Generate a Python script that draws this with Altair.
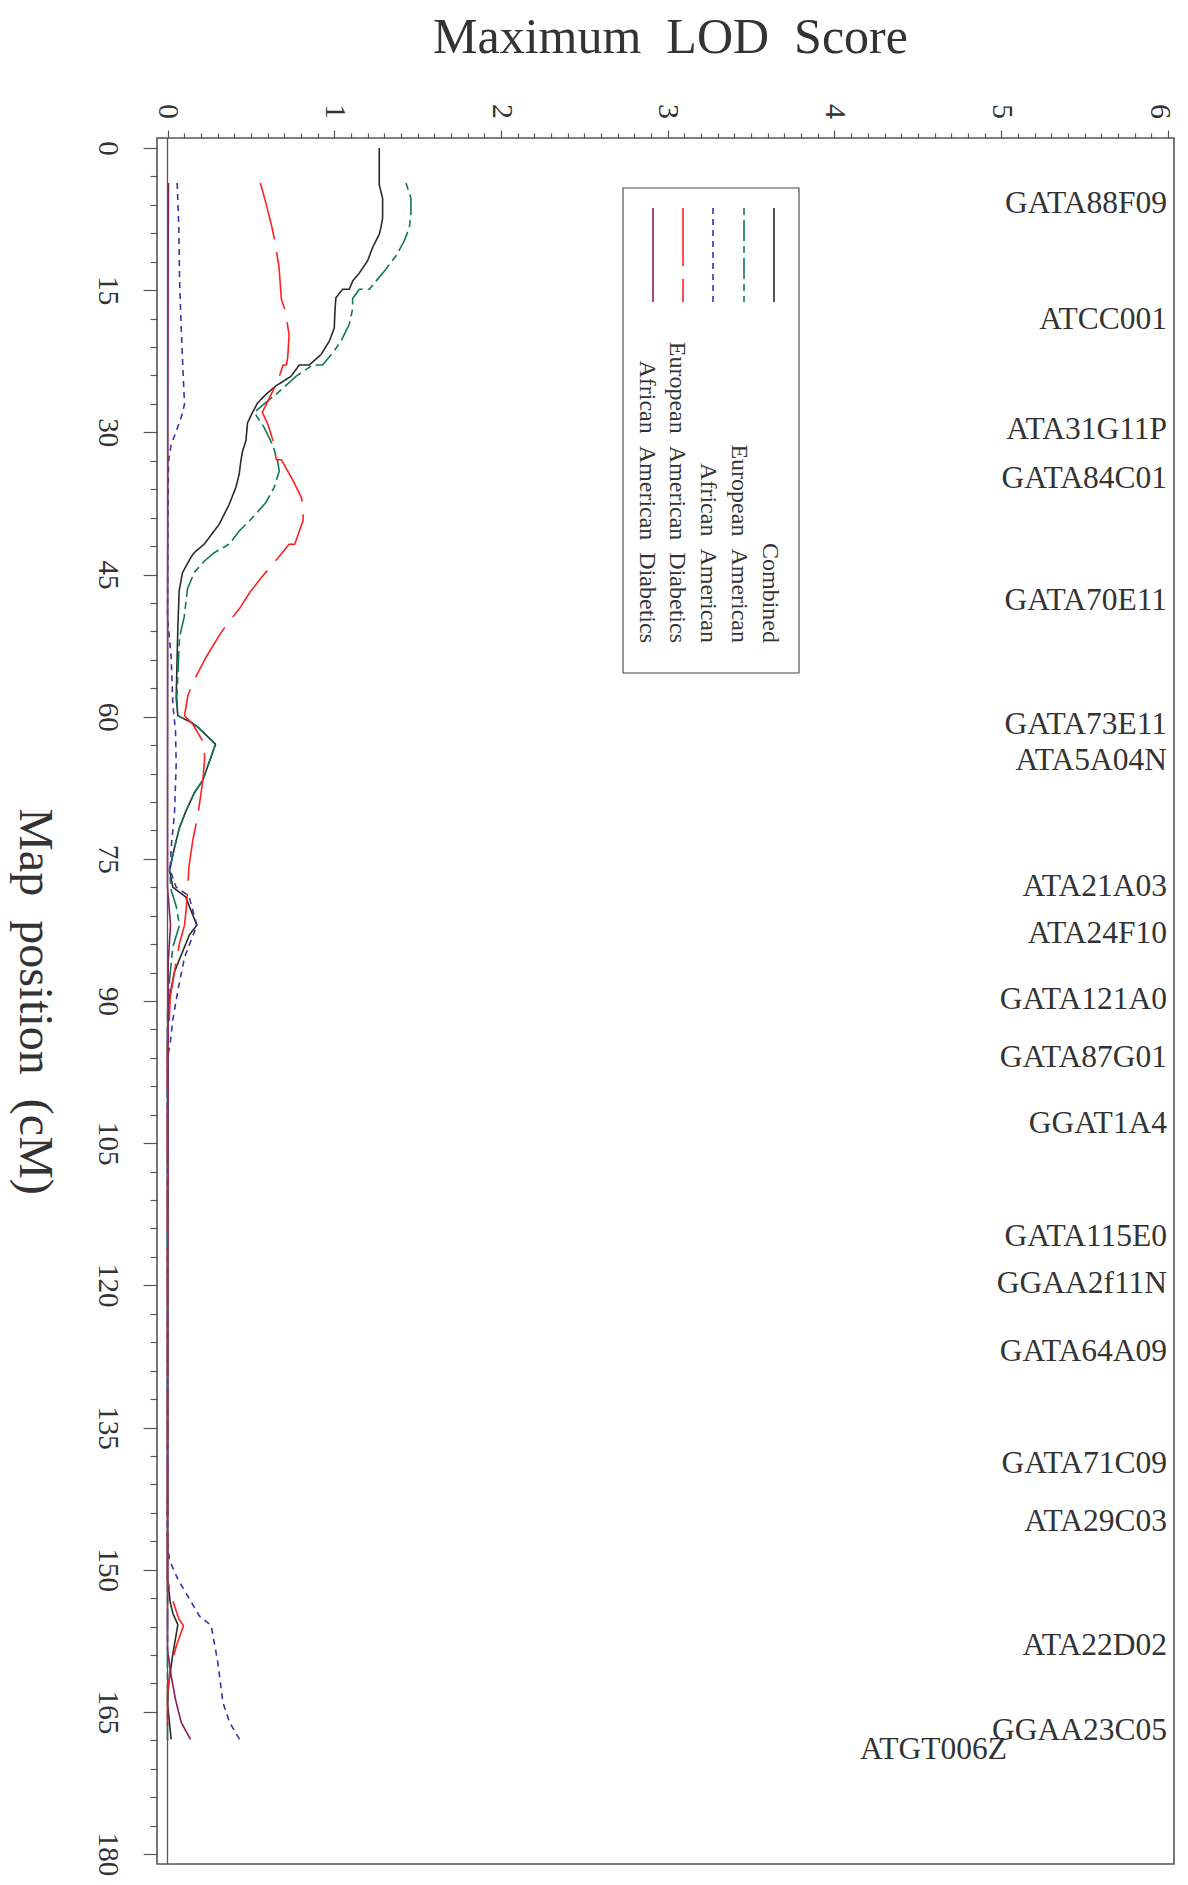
import altair as alt
import pandas as pd

FONT = "Liberation Serif"

SERIES = ["Combined", "European American", "African American",
          "European American Diabetics", "African American Diabetics"]
COLORS = ["#2b2b2b", "#0f7a55", "#3535a8", "#ff2020", "#8b1c5c"]
DASHES = [[1, 0], [7, 5, 21, 5], [6, 5], [58, 13], [1, 0]]

COMBINED_POS = [0, 1.8, 3.9, 5.3, 7.4, 8.4, 9.1, 10.5, 11.9, 13.2, 14.05, 14.9, 14.9, 15.8, 16.9,
                19.0, 20.4, 21.8, 22.9, 22.9, 24.1, 25.1, 26.0, 26.9, 27.9, 29.0, 30.9, 32.0, 33.0,
                34.4, 35.8, 37.6, 39.7, 41.8, 42.7, 43.2, 44.8, 46.7, 50.6, 58.0, 59.9, 60.6, 61.1,
                62.9, 66.7, 68.0, 69.9, 71.7, 73.8, 76.2, 78.0, 79.0, 82.0, 83.0, 86.9, 89.6, 93.0,
                151.0, 153.4, 154.6, 155.8, 158.9, 161.9, 164.1, 167.9]
COMBINED_LOD = [1.27, 1.27, 1.27, 1.29, 1.29, 1.28, 1.27, 1.23, 1.20, 1.15, 1.11, 1.09, 1.05, 1.01, 1.005,
                1.0, 0.97, 0.92, 0.85, 0.79, 0.74, 0.65, 0.59, 0.54, 0.51, 0.48, 0.47, 0.45, 0.44,
                0.43, 0.41, 0.37, 0.31, 0.22, 0.16, 0.14, 0.09, 0.07, 0.062, 0.052, 0.062, 0.142, 0.182,
                0.288, 0.212, 0.162, 0.112, 0.072, 0.042, 0.012, 0.032, 0.108, 0.176, 0.132, 0.042, 0.012, 0.0,
                0.0, 0.016, 0.032, 0.062, 0.032, 0.008, 0.0, 0.022]

EA_POS = [3.7, 5.3, 7.0, 8.4, 9.8, 11.4, 13.0, 14.9, 14.9, 15.9, 17.0, 18.6, 20.4, 21.4, 22.9, 22.9,
          24.1, 26.0, 27.0, 27.9, 29.5, 31.3, 33.0, 34.1, 35.8, 37.4, 39.0, 40.4, 41.8, 42.7, 43.6,
          44.8, 46.5, 49.5, 51.6, 58.0, 59.9, 60.6, 61.1, 62.9, 66.7, 68.0, 69.9, 71.7, 73.8, 76.2,
          78.3, 80.0, 82.0, 84.3, 87.8, 91.3, 168.0]
EA_LOD = [1.43, 1.46, 1.46, 1.45, 1.42, 1.37, 1.30, 1.21, 1.15, 1.11, 1.11, 1.09, 1.04, 1.00, 0.93, 0.87,
          0.77, 0.65, 0.58, 0.52, 0.58, 0.63, 0.66, 0.67, 0.64, 0.59, 0.51, 0.43, 0.37, 0.28, 0.22,
          0.16, 0.12, 0.10, 0.072, 0.056, 0.062, 0.142, 0.182, 0.288, 0.212, 0.162, 0.112, 0.072, 0.042, 0.012,
          0.022, 0.052, 0.072, 0.032, 0.012, 0.0, 0.0]

AA_POS = [3.7, 8.4, 13.7, 19.0, 23.2, 27.0, 28.1, 29.9, 31.3, 33.0, 40.0, 49.5, 53.7, 58.7, 61.5,
          65.0, 70.2, 73.8, 76.2, 78.0, 78.9, 82.0, 85.4, 88.9, 92.0, 94.5, 96.0, 147.2, 149.0,
          151.0, 153.1, 154.9, 155.9, 159.8, 164.0, 166.1, 167.9]
AA_LOD = [0.058, 0.068, 0.072, 0.082, 0.092, 0.102, 0.088, 0.052, 0.022, 0.006, 0.002, 0.0, 0.022, 0.032, 0.048,
          0.052, 0.042, 0.022, 0.016, 0.052, 0.128, 0.176, 0.102, 0.062, 0.032, 0.016, 0.0, 0.0, 0.012,
          0.062, 0.132, 0.192, 0.262, 0.302, 0.332, 0.372, 0.432]

EAD_POS = [3.7, 6.0, 8.4, 9.8, 12.6, 16.0, 17.2, 19.7, 22.1, 22.9, 22.9, 24.2, 25.6, 27.0, 27.9, 29.2,
           30.9, 32.9, 32.9, 35.1, 36.9, 37.8, 39.3, 41.8, 41.8, 43.9, 45.1, 46.9, 48.6, 49.9, 51.1,
           53.7, 56.4, 57.8, 59.9, 60.8, 62.9, 64.6, 66.7, 70.4, 73.0, 75.9, 78.0, 80.3, 82.0, 83.9,
           86.9, 89.6, 93.2, 94.5, 151.0, 152.8, 153.8, 155.2, 155.9, 158.1, 160.5, 163.3, 167.9]
EAD_LOD = [0.557, 0.593, 0.627, 0.643, 0.669, 0.683, 0.707, 0.729, 0.721, 0.713, 0.693, 0.669, 0.633, 0.593, 0.569, 0.603,
           0.633, 0.653, 0.683, 0.753, 0.803, 0.813, 0.813, 0.763, 0.729, 0.633, 0.573, 0.493, 0.432, 0.372, 0.322,
           0.232, 0.152, 0.122, 0.102, 0.152, 0.222, 0.222, 0.212, 0.182, 0.152, 0.128, 0.122, 0.112, 0.102, 0.072,
           0.042, 0.016, 0.008, 0.0, 0.0, 0.022, 0.042, 0.068, 0.096, 0.052, 0.016, 0.0, 0.0]

AAD_POS = [3.7, 10.0, 30.0, 78.0, 82.0, 86.0, 158.4, 161.2, 163.7, 166.1, 167.9]
AAD_LOD = [0.006, 0.004, 0.002, 0.0, 0.018, 0.004, 0.0, 0.022, 0.048, 0.082, 0.138]

MARKERS = ["GATA88F09", "ATCC001", "ATA31G11P", "GATA84C01", "GATA70E11", "GATA73E11", "ATA5A04N",
           "ATA21A03", "ATA24F10", "GATA121A0", "GATA87G01", "GGAT1A4", "GATA115E0", "GGAA2f11N",
           "GATA64A09", "GATA71C09", "ATA29C03", "ATA22D02", "GGAA23C05"]
MARKER_POS = [5.9, 18.2, 29.8, 34.9, 47.8, 60.9, 64.7, 78.0, 82.9, 89.9, 96.0, 103.0, 114.9, 119.9,
              127.0, 138.9, 145.0, 158.0, 167.0]
SHIFTED_MARKER = ["ATGT006Z"]
SHIFTED_MARKER_POS = [169.0]

ZERO_LINE = [0]
X_TICKS = [round(i * 0.1, 1) for i in range(61)]
Y_TICKS = list(range(0, 181, 3))

W, H = 1017, 1726

rows = []
for name, pos, lod in [(SERIES[0], COMBINED_POS, COMBINED_LOD), (SERIES[1], EA_POS, EA_LOD),
                       (SERIES[2], AA_POS, AA_LOD), (SERIES[3], EAD_POS, EAD_LOD),
                       (SERIES[4], AAD_POS, AAD_LOD)]:
    for i, (p, l) in enumerate(zip(pos, lod)):
        rows.append({"series": name, "idx": i, "pos": p, "lod": l})
df = pd.DataFrame(rows)

xs = alt.Scale(domain=[-0.063, 6.036], nice=False, zero=False)
ys = alt.Scale(domain=[-1.054, 181.05], nice=False, zero=False, reverse=True)

x_axis = alt.Axis(
    orient="top", values=X_TICKS, grid=False, domain=False,
    tickSize={"condition": {"test": "abs(datum.value - round(datum.value)) < 0.001", "value": 8}, "value": 5},
    tickColor="#555555", tickWidth=1.2,
    labelExpr="abs(datum.value - round(datum.value)) < 0.001 ? format(datum.value, 'd') : ''",
    labelOffset={"condition": {"test": "datum.value > 5.95", "value": -8}, "value": 0},
    labelAngle=90, labelAlign="center", labelBaseline="middle", labelPadding=19,
    labelOverlap=False, labelFlush=False, labelFontSize=30, labelColor="#333333", labelFont=FONT,
    title="Maximum\u2002LOD\u2002Score", titleFontSize=50, titleFont=FONT, titleColor="#333333",
    titleFontWeight="normal", titleAngle=0, titleAlign="center", titleBaseline="alphabetic",
    titleX=513, titleY=-86,
)
y_axis = alt.Axis(
    orient="left", values=Y_TICKS, grid=False, domain=False,
    tickSize={"condition": {"test": "datum.value % 15 === 0", "value": 14}, "value": 7},
    tickColor="#555555", tickWidth=1.2,
    labelExpr="datum.value % 15 === 0 ? datum.label : ''",
    labelAngle=90, labelAlign="center", labelBaseline="middle", labelPadding=36,
    labelOverlap=False, labelFlush=False, labelFontSize=29, labelColor="#333333", labelFont=FONT,
    title="Map\u2002position\u2002(cM)", titleFontSize=48, titleFont=FONT, titleColor="#333333",
    titleFontWeight="normal", titleAngle=90, titleAlign="center", titleBaseline="middle",
    titleX=-124, titleY=H / 2,
)

X_ENC = alt.X("lod:Q", scale=xs, axis=x_axis)
Y_ENC = alt.Y("pos:Q", scale=ys, axis=y_axis)

lines = alt.Chart(df).mark_line(strokeWidth=1.6, clip=True).encode(
    x=X_ENC,
    y=Y_ENC,
    color=alt.Color("series:N", scale=alt.Scale(domain=SERIES, range=COLORS), legend=None),
    strokeDash=alt.StrokeDash("series:N", scale=alt.Scale(domain=SERIES, range=DASHES), legend=None),
    order=alt.Order("idx:Q"),
    detail="series:N",
)

zero = alt.Chart(pd.DataFrame({"lod": ZERO_LINE})).mark_rule(color="#555555", strokeWidth=1.3).encode(
    x=X_ENC
)

markers = alt.Chart(pd.DataFrame({"name": MARKERS, "pos": MARKER_POS})).mark_text(
    align="right", baseline="middle", font=FONT, fontSize=31.5, color="#333333"
).encode(
    x=alt.value(1010),
    y=Y_ENC,
    text="name:N",
)
markers2 = alt.Chart(pd.DataFrame({"name": SHIFTED_MARKER, "pos": SHIFTED_MARKER_POS})).mark_text(
    align="right", baseline="middle", font=FONT, fontSize=31.5, color="#333333"
).encode(
    x=alt.value(850),
    y=Y_ENC,
    text="name:N",
)

legend_layers = []
box = alt.Chart(pd.DataFrame({"a": [0]})).mark_rect(
    fill="white", fillOpacity=0, stroke="#444444", strokeWidth=1.1
).encode(x=alt.value(466), x2=alt.value(642), y=alt.value(50), y2=alt.value(535))
legend_layers.append(box)
LEG_LINE_X = [617, 587, 556, 526, 496]
LEG_TEXT_X = [613, 582, 551, 520, 490]
for k, name in enumerate(SERIES):
    legend_layers.append(
        alt.Chart(pd.DataFrame({"series": [name]})).mark_rule(
            color=COLORS[k], strokeDash=DASHES[k], strokeWidth=1.6
        ).encode(x=alt.value(LEG_LINE_X[k]), y=alt.value(70), y2=alt.value(164))
    )
    legend_layers.append(
        alt.Chart(pd.DataFrame({"series": [name.replace(" ", "\u2002")]})).mark_text(
            angle=90, align="right", baseline="middle", font=FONT, fontSize=24, color="#333333"
        ).encode(x=alt.value(LEG_TEXT_X[k]), y=alt.value(505), text="series:N")
    )

chart = alt.layer(lines, zero, markers, markers2, *legend_layers).properties(
    width=W, height=H,
    autosize=alt.AutoSizeParams(type="none"),
    padding={"left": 149, "top": 130, "right": 6, "bottom": 12},
).configure(
    background="white",
    view=alt.ViewConfig(stroke="#555555", strokeWidth=1.6),
)

chart.save("out.html", embed_options={"renderer": "svg", "actions": False})
